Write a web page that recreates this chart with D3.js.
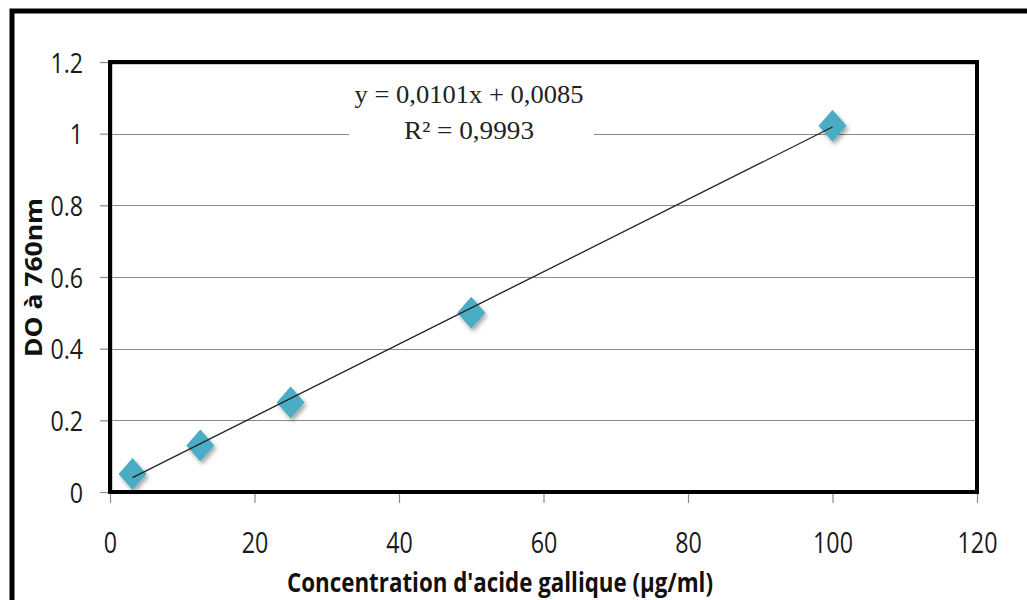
<!DOCTYPE html>
<html>
<head>
<meta charset="utf-8">
<script src="https://cdn.jsdelivr.net/npm/d3@7"></script>
<style>
html,body{margin:0;padding:0;background:#fff;}
svg{display:block;}
</style>
</head>
<body>
<svg id="chart" width="1027" height="600"></svg>
<script>
// ---- data ----
const concentrations = [3.125, 12.5, 25, 50, 100];
const absorbances = [0.05, 0.13, 0.25, 0.5, 1.022];
const xTicks = [0, 20, 40, 60, 80, 100, 120];
const yTicks = [0, 0.2, 0.4, 0.6, 0.8, 1, 1.2];
const trendSlope = 0.0101;
const trendIntercept = 0.0085;
const equationLines = ["y = 0,0101x + 0,0085", "R² = 0,9993"];
const xTitle = "Concentration d'acide gallique (µg/ml)";
const yTitle = "DO à 760nm";

const svg = d3.select("#chart");
const pL = 110, pR = 977, pT = 62, pB = 492;

const x = d3.scaleLinear().domain([0, 120]).range([pL, pR]);
const y = d3.scaleLinear().domain([0, 1.2]).range([pB, pT]);

// outer frame
svg.append("rect").attr("x", 12).attr("y", 11).attr("width", 1040).attr("height", 620)
  .attr("fill", "#fff").attr("stroke", "#000").attr("stroke-width", 5);

const defs = svg.append("defs");
const f = defs.append("filter").attr("id", "sh").attr("x", "-50%").attr("y", "-50%").attr("width", "200%").attr("height", "200%");
f.append("feDropShadow").attr("dx", 2).attr("dy", 3).attr("stdDeviation", 2).attr("flood-color", "#000").attr("flood-opacity", 0.35);

// gridlines
svg.append("g").selectAll("line").data(yTicks.filter(d => d > 0 && d < 1.2)).join("line")
  .attr("x1", pL).attr("x2", pR)
  .attr("y1", d => Math.round(y(d)) + 0.5).attr("y2", d => Math.round(y(d)) + 0.5)
  .attr("stroke", "#8a8a8a").attr("stroke-width", 1.2);

// axes (ticks)
const yAxis = svg.append("g").attr("transform", `translate(${pL},0)`)
  .call(d3.axisLeft(y).tickValues(yTicks).tickSize(10).tickFormat(d => String(d)));
const xAxis = svg.append("g").attr("transform", `translate(0,${pB})`)
  .call(d3.axisBottom(x).tickValues(xTicks).tickSize(11).tickFormat(d => String(d)));
[yAxis, xAxis].forEach(g => {
  g.select(".domain").remove();
  g.selectAll(".tick line").attr("stroke", "#8a8a8a").attr("stroke-width", 1.2);
  g.selectAll(".tick text").attr("font-family", "Open Sans").attr("font-size", 30)
    .attr("fill", "#1a1a1a")
    .attr("lengthAdjust", "spacingAndGlyphs")
    .attr("textLength", function() {
      const t = this.textContent; let w = 0;
      for (const c of t) w += (c === "." ? 6 : 13.3);
      return w;
    });
});
yAxis.selectAll(".tick text").attr("x", -27).attr("dy", null).attr("y", 10).attr("font-size", 28);
xAxis.selectAll(".tick text").attr("dy", null).attr("y", 61);

// plot frame
svg.append("rect").attr("x", pL + 2).attr("y", pT + 2).attr("width", pR - pL - 2).attr("height", pB - pT - 2)
  .attr("fill", "none").attr("stroke", "#999").attr("stroke-width", 1);
svg.append("rect").attr("x", pL).attr("y", pT).attr("width", pR - pL).attr("height", pB - pT)
  .attr("fill", "none").attr("stroke", "#000").attr("stroke-width", 4);

// equation label background & text
svg.append("rect").attr("x", 349).attr("y", 80).attr("width", 245).attr("height", 68).attr("fill", "#fff");
svg.append("g").selectAll("text").data(equationLines).join("text")
  .attr("x", 469).attr("y", (d, i) => i === 0 ? 103 : 139)
  .attr("text-anchor", "middle").attr("font-family", "Liberation Serif").attr("font-size", 25)
  .attr("fill", "#222")
  .attr("lengthAdjust", "spacingAndGlyphs")
  .attr("textLength", (d, i) => i === 0 ? 229 : 130)
  .text(d => d);

// markers
const pts = concentrations.map((c, i) => [c, absorbances[i]]);
svg.append("g").selectAll("path").data(pts).join("path")
  .attr("transform", d => `translate(${x(d[0])},${y(d[1])})`)
  .attr("d", "M0,-16L14,0L0,16L-14,0Z")
  .attr("fill", "#4BACC6").attr("filter", "url(#sh)");

// trendline over markers (as in Excel)
const xs = d3.extent(concentrations);
svg.append("line")
  .attr("x1", x(xs[0])).attr("y1", y(trendSlope * xs[0] + trendIntercept))
  .attr("x2", x(xs[1])).attr("y2", y(trendSlope * xs[1] + trendIntercept))
  .attr("stroke", "#222").attr("stroke-width", 1.3);

// axis titles
svg.append("text").attr("x", 500).attr("y", 592).attr("text-anchor", "middle")
  .attr("font-family", "Open Sans").attr("font-weight", "bold").attr("font-size", 26)
  .attr("fill", "#111").attr("lengthAdjust", "spacingAndGlyphs").attr("textLength", 426)
  .text(xTitle);
svg.append("text").attr("transform", "translate(42,277.5) rotate(-90)").attr("text-anchor", "middle")
  .attr("font-family", "Open Sans").attr("font-weight", "bold").attr("font-size", 23)
  .attr("fill", "#111").attr("lengthAdjust", "spacingAndGlyphs").attr("textLength", 159)
  .text(yTitle);
</script>
</body>
</html>
